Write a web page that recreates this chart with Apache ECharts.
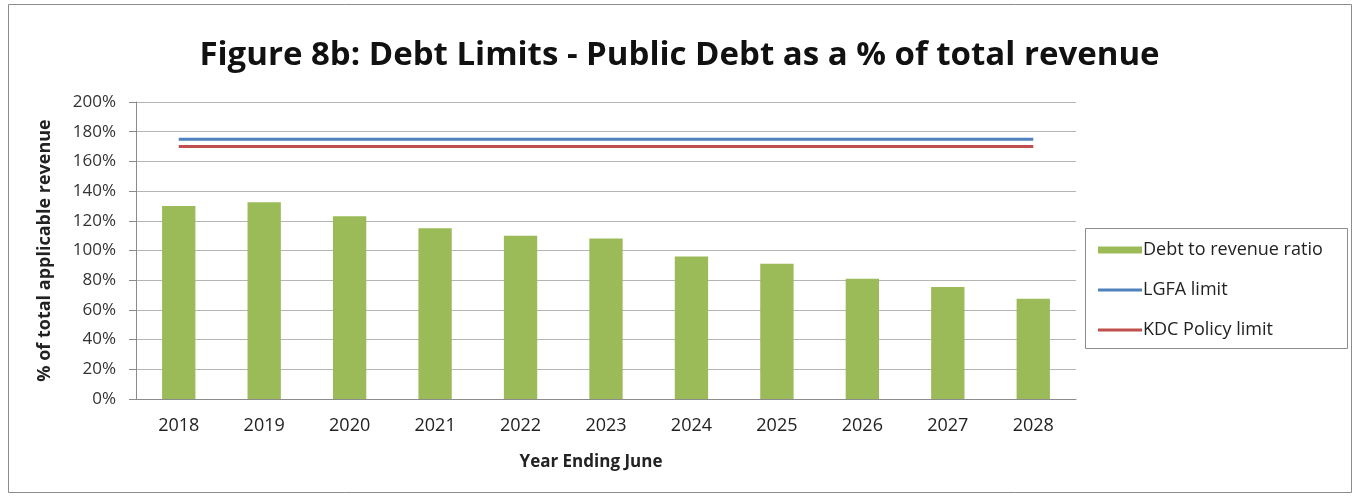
<!DOCTYPE html>
<html>
<head>
<meta charset="utf-8">
<script src="https://cdn.jsdelivr.net/npm/echarts@6/dist/echarts.min.js"></script>
<style>
  html, body { margin: 0; padding: 0; background: #fff; }
  #chart { width: 1359px; height: 502px; }
</style>
</head>
<body>
<div id="chart"></div>
<script>
// Figure 8b — debt limits chart
var years = ['2018', '2019', '2020', '2021', '2022', '2023', '2024', '2025', '2026', '2027', '2028'];
var debtRatio = [130, 132.5, 123, 115, 110, 108, 96, 91, 81, 75.5, 67.5];
var lgfaLimit = [175, 175, 175, 175, 175, 175, 175, 175, 175, 175, 175];
var kdcLimit = [170, 170, 170, 170, 170, 170, 170, 170, 170, 170, 170];

var FONT = '"Open Sans", "Noto Sans", sans-serif';
var LINE_ICON = 'path://M0,0H44V3H0Z';

var chart = echarts.init(document.getElementById('chart'));
chart.setOption({
  animation: false,
  backgroundColor: '#fff',
  textStyle: { fontFamily: FONT },
  title: {
    text: 'Figure 8b: Debt Limits - Public Debt as a % of total revenue',
    left: 'center', top: 34,
    textStyle: { fontFamily: FONT, fontSize: 33, fontWeight: 'bold', color: '#111' }
  },
  graphic: [
    { type: 'rect', shape: { x: 8.5, y: 4.5, width: 1343, height: 488 },
      style: { fill: 'none', stroke: '#8c8c8c', lineWidth: 1 }, silent: true },
    { type: 'rect', shape: { x: 1085.5, y: 228.5, width: 262, height: 120 },
      style: { fill: 'none', stroke: '#8c8c8c', lineWidth: 1 }, silent: true }
  ],
  legend: {
    orient: 'vertical',
    left: 1093, top: 236,
    itemWidth: 44, itemHeight: 7, itemGap: 22,
    textStyle: { fontFamily: FONT, fontSize: 18, color: '#222', padding: [0, 0, 0, -4] },
    data: [
      { name: 'Debt to revenue ratio', icon: 'rect' },
      { name: 'LGFA limit', icon: LINE_ICON },
      { name: 'KDC Policy limit', icon: LINE_ICON }
    ]
  },
  grid: { left: 136, right: 283, top: 102, bottom: 103 },
  xAxis: {
    type: 'category',
    data: years,
    name: 'Year Ending June',
    nameLocation: 'middle',
    nameGap: 55,
    nameTextStyle: { fontFamily: FONT, fontSize: 17, fontWeight: 'bold', color: '#222', padding: [0, 30, 0, 0] },
    axisLine: { lineStyle: { color: '#8c8c8c', width: 1 } },
    axisTick: { show: false },
    axisLabel: { fontFamily: FONT, fontSize: 18, color: '#222', margin: 18 }
  },
  yAxis: {
    type: 'value',
    min: 0, max: 200, interval: 20,
    name: '% of total applicable revenue',
    nameLocation: 'middle',
    nameGap: 82,
    nameTextStyle: { fontFamily: FONT, fontSize: 18, fontWeight: 'bold', color: '#222' },
    axisLine: { show: true, lineStyle: { color: '#8c8c8c', width: 1 } },
    axisTick: { show: true, length: 7, lineStyle: { color: '#8c8c8c' } },
    axisLabel: { formatter: '{value}%', fontFamily: FONT, fontSize: 17, color: '#333', margin: 20 },
    splitLine: { lineStyle: { color: '#b5b5b5', width: 1 } }
  },
  series: [
    {
      name: 'Debt to revenue ratio', type: 'bar', data: debtRatio,
      barWidth: '39%',
      itemStyle: { color: '#9bbb59' }
    },
    {
      name: 'LGFA limit', type: 'line', data: lgfaLimit,
      symbol: 'none', showSymbol: false,
      lineStyle: { color: '#4f81bd', width: 3 },
      itemStyle: { color: '#4f81bd' }
    },
    {
      name: 'KDC Policy limit', type: 'line', data: kdcLimit,
      symbol: 'none', showSymbol: false,
      lineStyle: { color: '#c0504d', width: 3 },
      itemStyle: { color: '#c0504d' }
    }
  ]
});
</script>
</body>
</html>
